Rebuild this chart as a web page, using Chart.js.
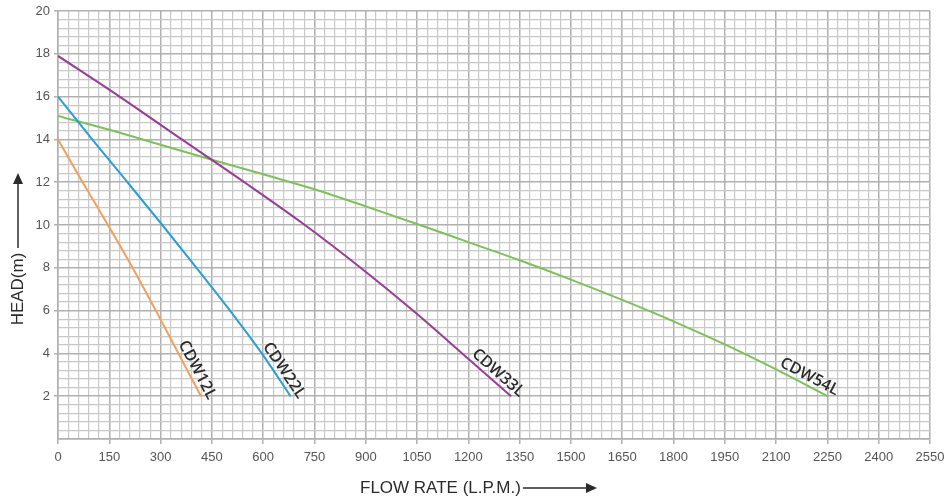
<!DOCTYPE html>
<html>
<head>
<meta charset="utf-8">
<script src="https://cdn.jsdelivr.net/npm/chart.js@4.4.1/dist/chart.umd.min.js"></script>
<style>
  html, body { margin: 0; background: #fff; }
  #wrap { width: 947px; height: 501px; position: relative; }
</style>
</head>
<body>
<div id="wrap"><canvas id="pumpChart"></canvas></div>
<script>
// ── Data ────────────────────────────────────────────────────────────────
const flowCDW12L = [0, 72, 146, 218, 286, 352, 418];
const headCDW12L = [14, 12, 10, 8, 6, 4, 2];

const flowCDW22L = [0, 100, 203, 305, 405, 503, 596, 680];
const headCDW22L = [16, 14, 12, 10, 8, 6, 4, 2];

const flowCDW33L = [0, 180, 362, 545, 722, 885, 1038, 1182, 1325];
const headCDW33L = [17.9, 16, 14, 12, 10, 8, 6, 4, 2];

const flowCDW54L = [0, 150, 300, 450, 600, 750, 900, 1050, 1200, 1350, 1500, 1650, 1800, 1950, 2100, 2250];
const headCDW54L = [15.1, 14.45, 13.75, 13.05, 12.37, 11.67, 10.87, 10.05, 9.2, 8.35, 7.45, 6.5, 5.5, 4.42, 3.25, 2.0];

const seriesNames = ['CDW12L', 'CDW22L', 'CDW33L', 'CDW54L'];
const xMax = 2550, xMinorStep = 30, xMajorStep = 150;
const yMax = 20,   yMinorStep = 0.4, yMajorStep = 2;

const xTitle = 'FLOW RATE (L.P.M.)';
const yTitle = 'HEAD(m)';

// ── Styles ───────────────────────────────────────────────────────────────
const COLORS  = ['#f0a05c', '#2a9fd3', '#983d96', '#7cc15a'];
const MINOR   = '#c8c8c8';
const MAJOR   = '#b0b0b0';
const INK     = '#2b2b2b';
const TICK_FONT = { family: '"Liberation Sans", Arial, sans-serif', size: 13 };

const toPoints = (xs, ys) => xs.map((x, i) => ({ x, y: ys[i] }));
const isMultiple = (v, step) => Math.abs(v / step - Math.round(v / step)) < 1e-6;

const datasets = [
  [flowCDW12L, headCDW12L],
  [flowCDW22L, headCDW22L],
  [flowCDW33L, headCDW33L],
  [flowCDW54L, headCDW54L]
].map(([xs, ys], i) => ({
  label: seriesNames[i], data: toPoints(xs, ys),
  showLine: true, fill: false, cubicInterpolationMode: 'monotone',
  borderColor: COLORS[i], backgroundColor: COLORS[i],
  borderWidth: 2, pointRadius: 0, pointHoverRadius: 0
}));

// ── Curve names written along the end of each line ──────────────────────
const curveLabels = {
  id: 'curveLabels',
  afterDatasetsDraw(chart) {
    const ctx = chart.ctx;
    ctx.save();
    ctx.fillStyle = INK;
    ctx.font = '600 16px "Open Sans", sans-serif';
    ctx.textAlign = 'right';
    ctx.textBaseline = 'bottom';
    chart.data.datasets.forEach((ds, i) => {
      const pts = chart.getDatasetMeta(i).data;
      const a = pts[pts.length - 2], b = pts[pts.length - 1];
      const ang = Math.atan2(b.y - a.y, b.x - a.x);
      ctx.save();
      ctx.translate(b.x, b.y);
      ctx.rotate(ang);
      ctx.fillText(ds.label, 7, -1);
      ctx.restore();
    });
    ctx.restore();
  }
};

// ── Axis titles with arrows ─────────────────────────────────────────────
function arrowHead(ctx, x, y, dir) {
  ctx.beginPath();
  if (dir === 'up') { ctx.moveTo(x, y); ctx.lineTo(x - 5, y + 11); ctx.lineTo(x + 5, y + 11); }
  else              { ctx.moveTo(x, y); ctx.lineTo(x - 11, y - 5); ctx.lineTo(x - 11, y + 5); }
  ctx.closePath();
  ctx.fill();
}

const axisTitles = {
  id: 'axisTitles',
  afterDraw(chart) {
    const ctx = chart.ctx;
    ctx.save();
    ctx.fillStyle = INK;
    ctx.strokeStyle = INK;
    ctx.lineWidth = 1.5;
    ctx.font = '17px "Liberation Sans", Arial, sans-serif';

    // y title, reading upward, arrow above it
    ctx.save();
    ctx.translate(18, 289);
    ctx.rotate(-Math.PI / 2);
    ctx.textAlign = 'center';
    ctx.textBaseline = 'middle';
    ctx.fillText(yTitle, 0, 0);
    ctx.restore();
    ctx.beginPath(); ctx.moveTo(18, 248); ctx.lineTo(18, 182); ctx.stroke();
    arrowHead(ctx, 18, 173, 'up');

    // x title, arrow to the right
    ctx.textAlign = 'left';
    ctx.textBaseline = 'middle';
    ctx.fillText(xTitle, 360, 488);
    const w = ctx.measureText(xTitle).width;
    ctx.beginPath(); ctx.moveTo(360 + w + 2, 488); ctx.lineTo(588, 488); ctx.stroke();
    arrowHead(ctx, 597, 488, 'right');
    ctx.restore();
  }
};

new Chart(document.getElementById('pumpChart'), {
  type: 'scatter',
  data: { datasets },
  plugins: [curveLabels, axisTitles],
  options: {
    responsive: true, maintainAspectRatio: false, animation: false,
    layout: { padding: { top: 11, right: 17, left: 0, bottom: 0 } },
    plugins: { legend: { display: false }, tooltip: { enabled: false } },
    scales: {
      x: {
        type: 'linear', min: 0, max: xMax,
        afterFit: s => { s.height = 62; s.paddingLeft = 0; s.paddingRight = 0; },
        border: { display: true, color: MAJOR, width: 1.5 },
        grid: {
          color: c => isMultiple(c.tick.value, xMajorStep) ? MAJOR : MINOR,
          lineWidth: c => isMultiple(c.tick.value, xMajorStep) ? 1.5 : 1.2,
          tickColor: c => isMultiple(c.tick.value, xMajorStep) ? MAJOR : 'rgba(0,0,0,0)',
          tickLength: 5
        },
        ticks: {
          stepSize: xMinorStep, autoSkip: false, maxRotation: 0, padding: 6,
          color: '#555', font: TICK_FONT,
          callback: v => isMultiple(v, xMajorStep) ? String(Math.round(v)) : ''
        }
      },
      y: {
        type: 'linear', min: 0, max: yMax,
        afterFit: s => { s.width = 58; s.paddingTop = 0; s.paddingBottom = 0; },
        border: { display: true, color: MAJOR, width: 1.5 },
        grid: {
          color: c => isMultiple(c.tick.value, yMajorStep) ? MAJOR : MINOR,
          lineWidth: c => isMultiple(c.tick.value, yMajorStep) ? 1.5 : 1.2,
          tickColor: c => isMultiple(c.tick.value, yMajorStep) && c.tick.value > 0 ? MAJOR : 'rgba(0,0,0,0)',
          tickLength: 4
        },
        ticks: {
          stepSize: yMinorStep, autoSkip: false, padding: 4,
          color: '#555', font: TICK_FONT,
          callback: v => isMultiple(v, yMajorStep) && v > 0 ? String(Math.round(v)) : ''
        }
      }
    }
  }
});
</script>
</body>
</html>
